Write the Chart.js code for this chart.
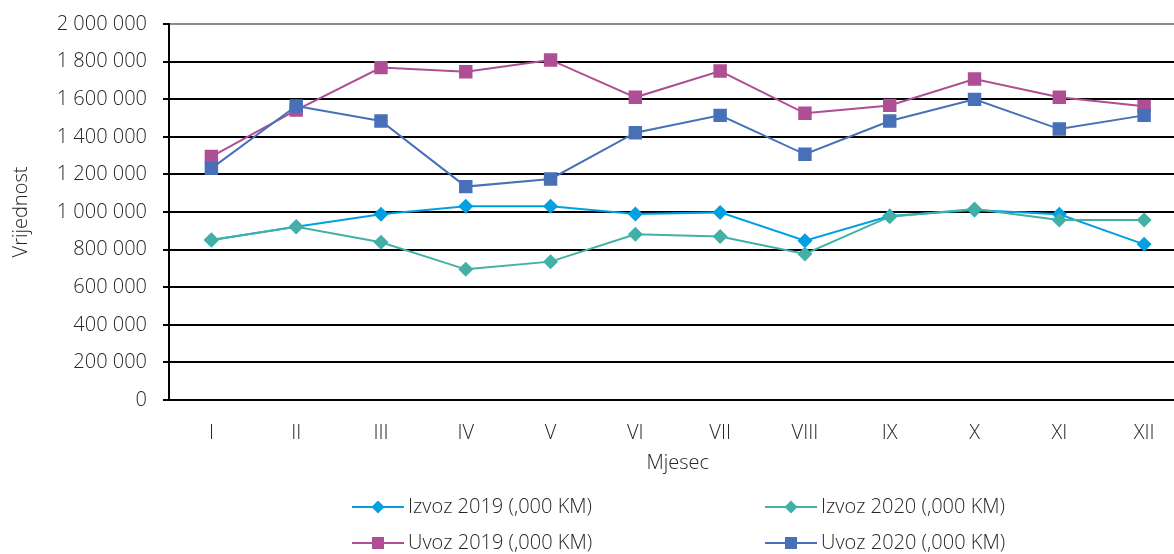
<!DOCTYPE html>
<html>
<head>
<meta charset="utf-8">
<script src="https://cdn.jsdelivr.net/npm/chart.js@4/dist/chart.umd.min.js"></script>
<style>
  html, body { margin: 0; padding: 0; background: #fff; overflow: hidden; }
  #wrap { width: 1196px; height: 554px; }
</style>
</head>
<body>
<div id="wrap"><canvas id="c" width="1196" height="554"></canvas></div>
<script>
const months = ['I', 'II', 'III', 'IV', 'V', 'VI', 'VII', 'VIII', 'IX', 'X', 'XI', 'XII'];
const izvoz2019 = [851000, 922000, 988000, 1030000, 1030000, 989000, 998000, 847000, 979000, 1011000, 988000, 828000];
const izvoz2020 = [851000, 922000, 839000, 695000, 736000, 881000, 870000, 777000, 975000, 1016000, 957000, 957000];
const uvoz2019 = [1295000, 1542000, 1768000, 1746000, 1809000, 1610000, 1750000, 1525000, 1567000, 1707000, 1610000, 1562000];
const uvoz2020 = [1232000, 1564000, 1484000, 1135000, 1176000, 1422000, 1514000, 1307000, 1484000, 1599000, 1441000, 1514000];
const seriesLabels = ['Izvoz 2019 (,000 KM)', 'Izvoz 2020 (,000 KM)', 'Uvoz 2019 (,000 KM)', 'Uvoz 2020 (,000 KM)'];
const yTitle = 'Vrijednost';
const xTitle = 'Mjesec';
const yMin = 0, yMax = 2000000, yStep = 200000;

const FONT = "'Open Sans', 'DejaVu Sans', sans-serif";
const FW = 300;
const TXT = '#262626';

function fmt(v) { return String(v).replace(/\B(?=(\d{3})+(?!\d))/g, ' '); }

function ds(label, data, color, style, radius, order) {
  return {
    label, data,
    borderColor: color, backgroundColor: color,
    borderWidth: 2,
    pointStyle: style, pointRadius: radius, pointHoverRadius: radius,
    pointBorderWidth: 0, pointBackgroundColor: color,
    tension: 0, fill: false, order
  };
}

const legendPlugin = {
  id: 'customLegend',
  afterDraw(chart) {
    const ctx = chart.ctx;
    const cols = [352, 765];
    const rows = [507, 543];
    chart.data.datasets.forEach((d, i) => {
      const x0 = cols[i % 2];
      const y = rows[Math.floor(i / 2)];
      ctx.save();
      ctx.strokeStyle = d.borderColor;
      ctx.lineWidth = 2;
      ctx.beginPath();
      ctx.moveTo(x0, y);
      ctx.lineTo(x0 + 52, y);
      ctx.stroke();
      ctx.fillStyle = d.backgroundColor;
      Chart.helpers.drawPoint(ctx, { pointStyle: d.pointStyle, radius: d.pointStyle === 'rect' ? 8.5 : 6.5, borderWidth: 0, rotation: 0 }, x0 + 26, y);
      ctx.fillStyle = TXT;
      ctx.font = FW + ' 20px ' + FONT;
      ctx.textBaseline = 'middle';
      ctx.textAlign = 'left';
      ctx.fillText(d.label, x0 + 56, y);
      ctx.restore();
    });
  }
};

const tf = { family: FONT, size: 20, weight: FW };

new Chart(document.getElementById('c'), {
  type: 'line',
  data: {
    labels: months,
    datasets: [
      ds(seriesLabels[0], izvoz2019, '#00A0E1', 'rectRot', 7.5, 3),
      ds(seriesLabels[1], izvoz2020, '#42B0A7', 'rectRot', 7.5, 1),
      ds(seriesLabels[2], uvoz2019, '#AE4E94', 'rect', 9.5, 2),
      ds(seriesLabels[3], uvoz2020, '#4770B8', 'rect', 9.5, 0)
    ]
  },
  options: {
    responsive: false,
    animation: false,
    events: [],
    layout: { padding: { top: 24, left: 0, right: 0, bottom: 0 } },
    plugins: { legend: { display: false }, tooltip: { enabled: false } },
    scales: {
      x: {
        offset: true,
        grid: { display: false, drawTicks: false },
        border: { display: true, color: '#000', width: 2 },
        ticks: { color: TXT, font: tf, padding: 21, maxRotation: 0, autoSkip: false },
        title: { display: true, text: xTitle, color: TXT, font: tf, padding: { top: 0, bottom: 79 } },
        afterFit(scale) { scale.height = 154; scale.paddingLeft = 0; scale.paddingRight = 0; }
      },
      y: {
        min: yMin, max: yMax,
        grid: {
          color: (c) => (c.tick && c.tick.value === yMax ? '#8c8c8c' : '#000'),
          lineWidth: 2,
          drawTicks: true, tickLength: 6, tickColor: '#000', tickWidth: 2
        },
        border: { display: true, color: '#000', width: 2 },
        ticks: { stepSize: yStep, color: TXT, font: tf, padding: 16, callback: (v) => fmt(v) },
        title: { display: true, text: yTitle, color: TXT, font: tf, padding: { top: 9, bottom: 0 } },
        afterFit(scale) { scale.width = 169; scale.paddingTop = 0; scale.paddingBottom = 0; }
      }
    }
  },
  plugins: [legendPlugin]
});
</script>
</body>
</html>
